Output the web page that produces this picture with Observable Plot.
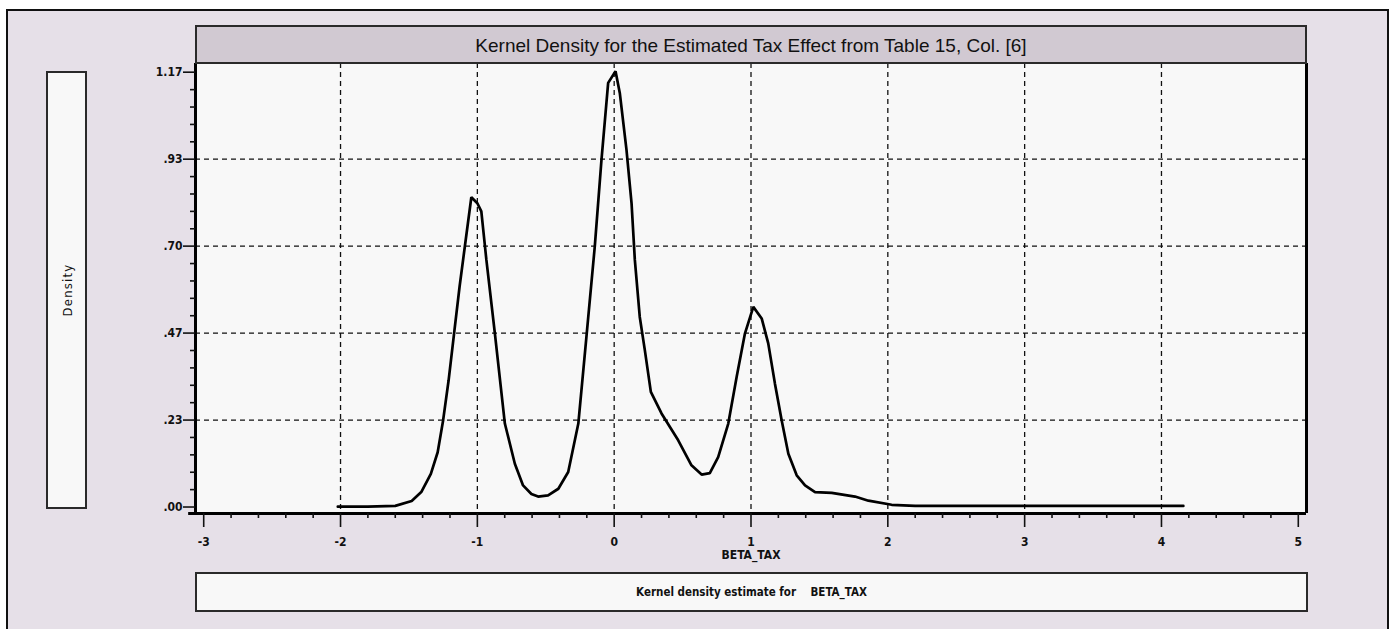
<!DOCTYPE html>
<html>
<head>
<meta charset="utf-8">
<script src="https://cdn.jsdelivr.net/npm/d3@7"></script>
<script src="https://cdn.jsdelivr.net/npm/@observablehq/plot@0.6"></script>
<style>
  html, body { margin: 0; padding: 0; background: #ffffff; }
  #wrap { position: relative; width: 1392px; height: 629px; overflow: hidden; background: #ffffff; }
  #outer { position: absolute; left: 6px; top: 9px; width: 1383px; height: 640px; border: 2px solid #111; background: #e6e0e8; box-sizing: border-box; }
  #chart { position: absolute; left: 0; top: 0; }
  .box { position: absolute; box-sizing: border-box; border: 2px solid #2a2a2a; background: #f8f8f8; }
  #title { left: 195px; top: 25px; width: 1112px; height: 39px; background: #d1c9d2; font-family: "Liberation Sans", Arial, sans-serif; font-size: 19px; color: #111; display: flex; align-items: center; justify-content: center; padding-top: 2px; }
  #ylab { left: 46px; top: 71px; width: 41px; height: 438px; }
  #ylab span { position: absolute; left: 50%; top: 50%; transform: translate(-50%, -50%) rotate(-90deg); font-family: "Liberation Sans Narrow", "DejaVu Sans Condensed", "Liberation Sans", sans-serif; font-size: 13px; letter-spacing: 1.2px; color: #111; white-space: nowrap; }
  #caption { left: 195px; top: 572px; width: 1113px; height: 40px; font-family: "Liberation Sans Narrow", "DejaVu Sans Condensed", "Liberation Sans", sans-serif; font-weight: bold; font-size: 11.5px; color: #111; display: flex; align-items: center; justify-content: center; white-space: pre; }
</style>
</head>
<body>
<div id="wrap">
  <div id="outer"></div>
  <div id="chart"></div>
  <div id="title" class="box">Kernel Density for the Estimated Tax Effect from Table 15, Col. [6]</div>
  <div id="ylab" class="box"><span>Density</span></div>
  <div id="caption" class="box">Kernel density estimate for    BETA_TAX</div>
</div>
<script>
// ---- data ----
const betaX = [
  -2.02, -1.80, -1.60, -1.48, -1.41, -1.34, -1.29, -1.25, -1.21, -1.17, -1.13, -1.09,
  -1.044, -1.00, -0.971, -0.934, -0.872, -0.799, -0.726, -0.666, -0.605, -0.556, -0.483,
  -0.408, -0.336, -0.262, -0.203, -0.142, -0.093, -0.044, 0.01, 0.041, 0.09, 0.127,
  0.151, 0.187, 0.224, 0.268, 0.346, 0.468, 0.565, 0.639, 0.699, 0.760, 0.834, 0.895,
  0.956, 1.017, 1.078, 1.126, 1.175, 1.224, 1.273, 1.334, 1.395, 1.468, 1.590, 1.760,
  1.858, 2.028, 2.20, 4.16
];
const density = [
  0.001, 0.001, 0.003, 0.016, 0.040, 0.089, 0.147, 0.233, 0.340, 0.466, 0.591, 0.703,
  0.831, 0.815, 0.793, 0.663, 0.466, 0.224, 0.116, 0.058, 0.035, 0.028, 0.031,
  0.049, 0.094, 0.224, 0.456, 0.698, 0.931, 1.138, 1.169, 1.111, 0.958, 0.815,
  0.663, 0.510, 0.421, 0.309, 0.251, 0.179, 0.112, 0.087, 0.091, 0.134, 0.224, 0.349,
  0.466, 0.537, 0.506, 0.439, 0.331, 0.233, 0.143, 0.085, 0.058, 0.040, 0.038, 0.028,
  0.017, 0.006, 0.003, 0.003
];
const xTicks = [-3, -2, -1, 0, 1, 2, 3, 4, 5];
const xTickLabels = ["-3", "-2", "-1", "0", "1", "2", "3", "4", "5"];
const xGrid = [-2, -1, 0, 1, 2, 3, 4];
const yTicks = [0, 0.2333, 0.4667, 0.7, 0.9333, 1.1667];
const yTickLabels = [".00", ".23", ".47", ".70", ".93", "1.17"];
const yGrid = [0.2333, 0.4667, 0.7, 0.9333];

const data = betaX.map((x, i) => ({x, y: density[i]}));
const xMinor = d3.range(-3, 5.0001, 0.2).filter(v => Math.abs(v - Math.round(v)) > 1e-6);
const yMinor = d3.range(0, 1.17, 0.2333 / 5).filter((v, i) => i % 5 !== 0);

const xDom = [-3.06, 5.06];
const yDom = [-0.0174, 1.19];
const tickFont = {fontFamily: "'Liberation Sans Narrow', 'DejaVu Sans Condensed', 'Liberation Sans', sans-serif", fontWeight: "bold", fontSize: 12};

const chart = Plot.plot({
  width: 1392,
  height: 629,
  marginLeft: 195,
  marginRight: 86,
  marginTop: 63,
  marginBottom: 116,
  style: {background: "transparent", color: "#111", overflow: "visible"},
  x: {domain: xDom},
  y: {domain: yDom},
  marks: [
    Plot.frame({fill: "#f8f8f8", stroke: null}),
    Plot.ruleX(xGrid, {stroke: "#111", strokeWidth: 1.3, strokeDasharray: "5,4"}),
    Plot.ruleY(yGrid, {stroke: "#111", strokeWidth: 1.3, strokeDasharray: "5,4"}),
    Plot.line(data, {x: "x", y: "y", stroke: "#000", strokeWidth: 2.7, strokeLinejoin: "miter"}),
    Plot.ruleX([xDom[0]], {stroke: "#000", strokeWidth: 3}),
    Plot.ruleX([xDom[1]], {stroke: "#000", strokeWidth: 3}),
    Plot.ruleY([yDom[0]], {x1: xDom[0] - 0.05, x2: xDom[1], stroke: "#000", strokeWidth: 3, clip: false}),
    Plot.axisX(xTicks, {tickSize: 14, tickPadding: 10, strokeWidth: 1.6, tickFormat: d => xTickLabels[xTicks.indexOf(d)], label: null, ...tickFont}),
    Plot.axisX(xMinor, {tickSize: 5, strokeWidth: 1.6, text: null, label: null}),
    Plot.axisY(yTicks, {tickSize: 12, tickPadding: 1, strokeWidth: 1.6, tickFormat: d => yTickLabels[yTicks.indexOf(d)], label: null, ...tickFont}),
    Plot.axisY(yMinor, {tickSize: 5, strokeWidth: 1.6, text: null, label: null}),
    Plot.text(["BETA_TAX"], {frameAnchor: "bottom", dy: 45, text: d => d, ...tickFont})
  ]
});
document.getElementById("chart").appendChild(chart);
</script>
</body>
</html>
